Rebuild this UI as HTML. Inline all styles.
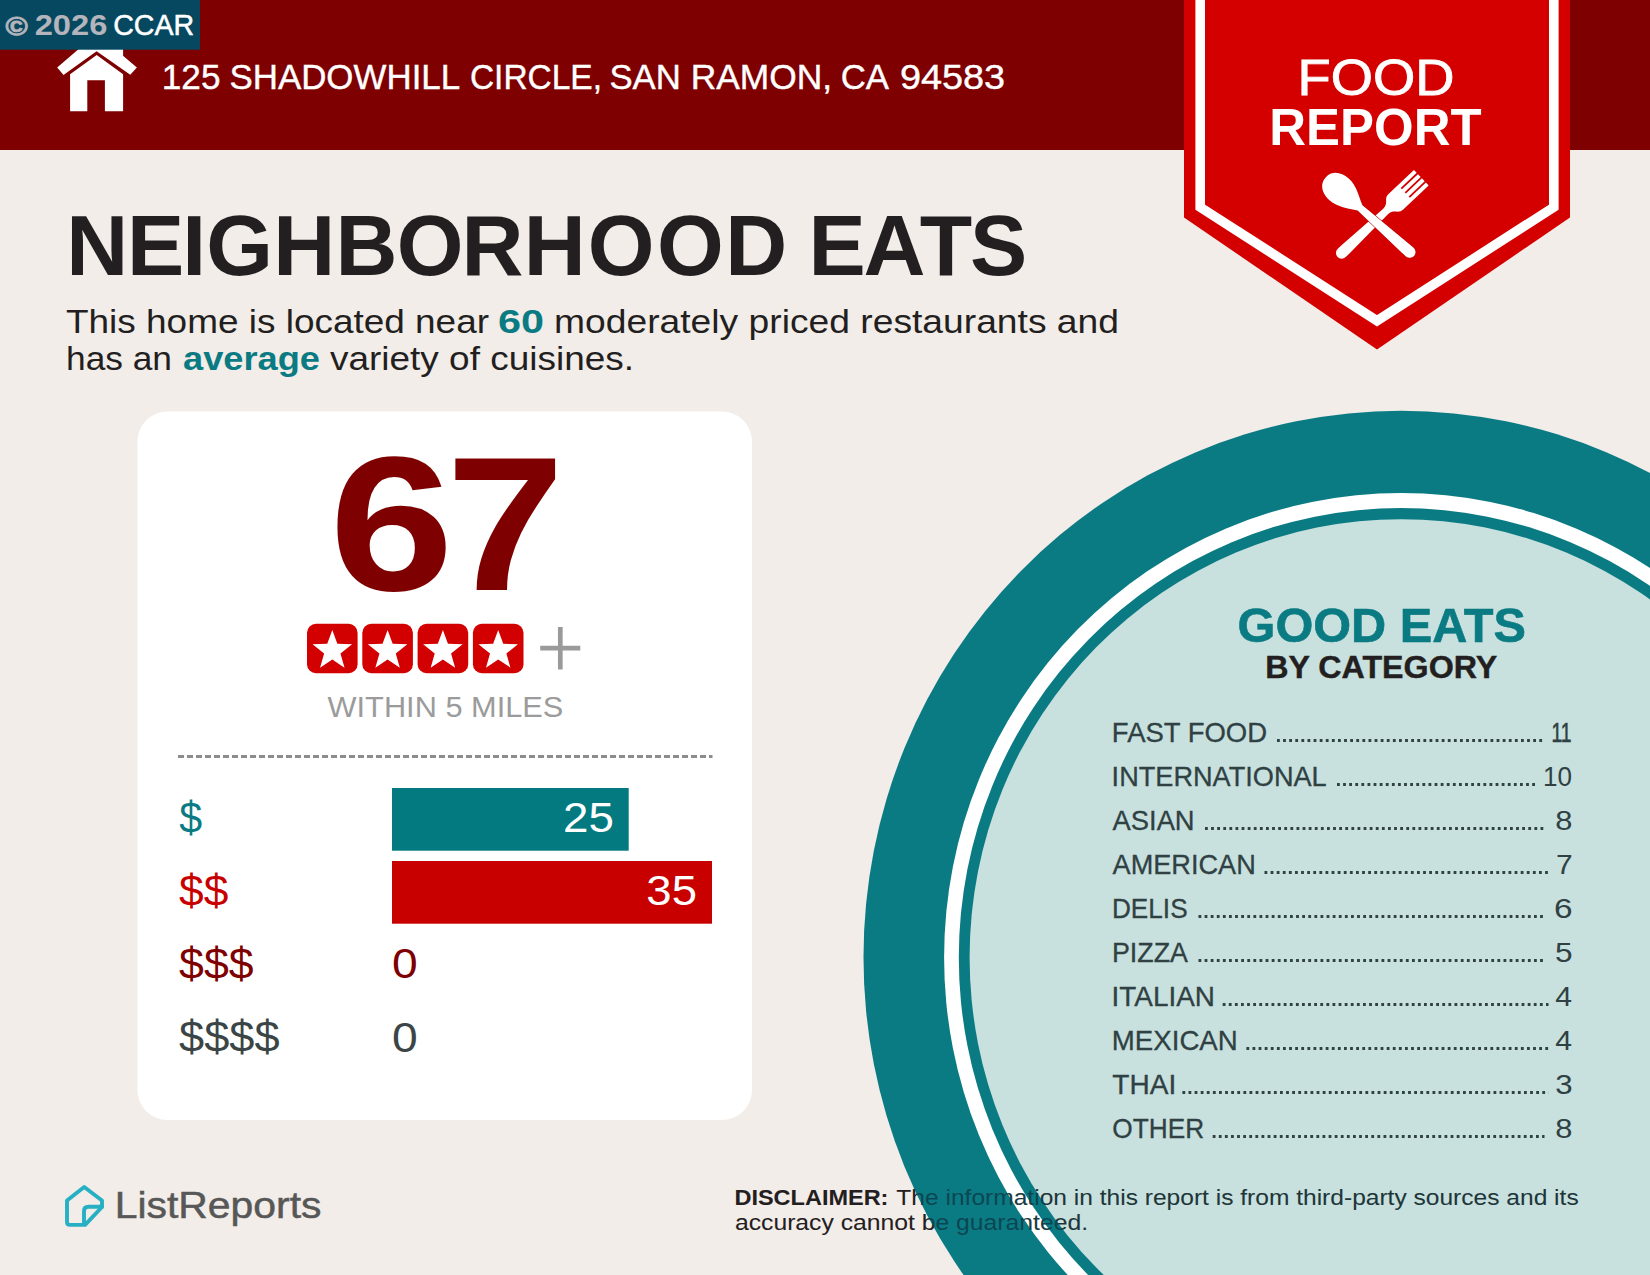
<!DOCTYPE html>
<html lang="en"><head><meta charset="utf-8"><title>Food Report - Neighborhood Eats</title>
<style>html,body{margin:0;padding:0;background:#f2ede9;}body{width:1650px;height:1275px;overflow:hidden;position:relative;font-family:"Liberation Sans", sans-serif;}svg{display:block;position:absolute;left:0;top:0;}text{font-family:"Liberation Sans", sans-serif;}</style></head><body>
<svg width="1650" height="1275" viewBox="0 0 1650 1275">
<defs><pattern id="tf" patternUnits="userSpaceOnUse" x="0" y="0" width="1650" height="1275">
<rect x="0" y="0" width="1650" height="1275" fill="#231f20"/>
<ellipse cx="1401.1" cy="957.4" rx="537.6" ry="546.6" fill="#0b4653"/>
<ellipse cx="1401.1" cy="957.4" rx="457" ry="464.3" fill="#1c3a40"/>
<ellipse cx="1401.1" cy="957.4" rx="442.3" ry="449.4" fill="#0b4653"/>
<ellipse cx="1401.1" cy="957.4" rx="431.5" ry="438.2" fill="#1f3538"/>
</pattern></defs>
<rect x="0" y="0" width="1650" height="1275" fill="#f2ede9"/>
<ellipse cx="1401.1" cy="957.4" rx="537.6" ry="546.6" fill="#0b7b83"/>
<ellipse cx="1401.1" cy="957.4" rx="457" ry="464.3" fill="#ffffff"/>
<ellipse cx="1401.1" cy="957.4" rx="442.3" ry="449.4" fill="#0b7b83"/>
<ellipse cx="1401.1" cy="957.4" rx="431.5" ry="438.2" fill="#c8e0de"/>
<rect x="0" y="0" width="1650" height="150" fill="#7e0000"/>
<polygon points="1184,0 1184,217.5 1377,349.5 1570,217.5 1570,0" fill="#d40000"/>
<polyline points="1200.2,-5 1200.2,207.2 1377,320.75 1553.8,207.2 1553.8,-5" fill="none" stroke="#ffffff" stroke-width="9.6" stroke-linejoin="miter"/>
<rect x="137.5" y="411.5" width="614.5" height="708.5" rx="30" ry="30" fill="#ffffff"/>
<g fill="#ffffff">
<polygon points="70.1,74.2 96.7,55.1 123.1,74.2 123.1,111.2 104.9,111.2 104.9,80.2 87.3,80.2 87.3,111.2 70.1,111.2"/>
<polygon points="96.8,33.5 136.9,67.6 130.3,74.8 96.6,51.3 63.5,75.1 57.2,67.6"/>
<rect x="111" y="30" width="12.1" height="29"/>
</g>
<rect x="0" y="0" width="200" height="49.7" fill="#05485f"/>
<text y="35.00" font-size="29"><tspan x="5.43" textLength="22.23" lengthAdjust="spacingAndGlyphs" font-weight="bold" fill="#b4b4bc" stroke="#b4b4bc" stroke-width="0.9" font-size="26.5">©</tspan><tspan x="27.80"> </tspan><tspan x="34.67" textLength="72.71" lengthAdjust="spacingAndGlyphs" font-weight="bold" fill="#b4b4bc">2026</tspan><tspan x="106.70"> </tspan><tspan x="113.25" textLength="80.87" lengthAdjust="spacingAndGlyphs" font-weight="normal" fill="#ffffff" stroke="#ffffff" stroke-width="0.5">CCAR</tspan></text>
<text y="89.00" font-size="35.8" stroke="#ffffff" stroke-width="0.4"><tspan x="161.72" textLength="58.76" lengthAdjust="spacingAndGlyphs" font-weight="normal" fill="#ffffff">125</tspan><tspan x="223.00"> </tspan><tspan x="229.42" textLength="230.74" lengthAdjust="spacingAndGlyphs" font-weight="normal" fill="#ffffff">SHADOWHILL</tspan><tspan x="463.60"> </tspan><tspan x="469.90" textLength="132.11" lengthAdjust="spacingAndGlyphs" font-weight="normal" fill="#ffffff">CIRCLE,</tspan><tspan x="603.00"> </tspan><tspan x="609.42" textLength="71.41" lengthAdjust="spacingAndGlyphs" font-weight="normal" fill="#ffffff">SAN</tspan><tspan x="685.60"> </tspan><tspan x="690.70" textLength="141.48" lengthAdjust="spacingAndGlyphs" font-weight="normal" fill="#ffffff">RAMON,</tspan><tspan x="834.50"> </tspan><tspan x="840.73" textLength="48.33" lengthAdjust="spacingAndGlyphs" font-weight="normal" fill="#ffffff">CA</tspan><tspan x="893.70"> </tspan><tspan x="899.93" textLength="105.24" lengthAdjust="spacingAndGlyphs" font-weight="normal" fill="#ffffff">94583</tspan></text>
<text x="66.14 127.04 182.23 206.18 273.14 335.55 396.87 461.48 523.69 587.82 656.97 725.15 787.11 808.39 863.43 919.67 969.93" y="275.00" font-size="85.8" font-weight="bold" fill="#231f20">NEIGHBORHOOD EATS</text>
<text y="332.80" font-size="34"><tspan x="66.00" textLength="423.00" lengthAdjust="spacingAndGlyphs" font-weight="normal" fill="#231f20">This home is located near</tspan><tspan x="490.00"> </tspan><tspan x="498.00" textLength="46.00" lengthAdjust="spacingAndGlyphs" font-weight="bold" fill="#0b7b83">60</tspan><tspan x="546.00"> </tspan><tspan x="554.00" textLength="565.00" lengthAdjust="spacingAndGlyphs" font-weight="normal" fill="#231f20">moderately priced restaurants and</tspan></text>
<text y="369.60" font-size="34"><tspan x="66.00" textLength="106.00" lengthAdjust="spacingAndGlyphs" font-weight="normal" fill="#231f20">has an</tspan><tspan x="175.00"> </tspan><tspan x="183.00" textLength="137.00" lengthAdjust="spacingAndGlyphs" font-weight="bold" fill="#0b7b83">average</tspan><tspan x="322.00"> </tspan><tspan x="330.00" textLength="304.00" lengthAdjust="spacingAndGlyphs" font-weight="normal" fill="#231f20">variety of cuisines.</tspan></text>
<text x="1297.44" y="95.00" font-size="50.6" font-weight="normal" fill="#ffffff" text-anchor="start" textLength="157.06" lengthAdjust="spacingAndGlyphs" stroke="#ffffff" stroke-width="0.9">FOOD</text>
<text x="1269.29" y="144.60" font-size="51.7" font-weight="bold" fill="#ffffff" text-anchor="start" textLength="212.25" lengthAdjust="spacingAndGlyphs">REPORT</text>
<g fill="#ffffff">
<g transform="translate(1421.3,177.7) rotate(46.6)"><path d="M-10.7,0 L-10.7,35 C-10.7,42 -3.8,41 -3.6,49 L-5.75,104 L-5.75,109.5 A5.75,5.75 0 0 0 5.75,109.5 L5.75,104 L3.6,49 C3.8,41 10.7,42 10.7,35 L10.7,0 L6.7,0 L6.7,22 L4.9,22 L4.9,0 L0.9,0 L0.9,22 L-0.9,22 L-0.9,0 L-4.9,0 L-4.9,22 L-6.7,22 L-6.7,0 Z"/></g>
<g transform="translate(1323.4,175.4) rotate(-48.4)"><path d="M0,3 C9.5,3 14.5,11 14.5,21 C14.5,32 8,40 3.6,49 L5.75,110 L5.75,115.5 A5.75,5.75 0 0 1 -5.75,115.5 L-5.75,110 L-3.6,49 C-8,40 -14.5,32 -14.5,21 C-14.5,11 -9.5,3 0,3 Z" stroke="#c00000" stroke-width="1" paint-order="stroke"/></g>
</g>
<text y="590.00" font-size="191.5"><tspan x="329.20" textLength="124.48" lengthAdjust="spacingAndGlyphs" font-weight="bold" fill="#7e0000">6</tspan><tspan x="446.17" textLength="118.17" lengthAdjust="spacingAndGlyphs" font-weight="bold" fill="#7e0000">7</tspan></text>
<rect x="307" y="623.8" width="50.6" height="49.4" rx="9" ry="9" fill="#d20000"/>
<polygon points="332.30,630.00 337.35,643.84 352.08,644.37 340.48,653.46 344.53,667.63 332.30,659.40 320.07,667.63 324.12,653.46 312.52,644.37 327.25,643.84" fill="#ffffff"/>
<rect x="362.3" y="623.8" width="50.6" height="49.4" rx="9" ry="9" fill="#d20000"/>
<polygon points="387.60,630.00 392.65,643.84 407.38,644.37 395.78,653.46 399.83,667.63 387.60,659.40 375.37,667.63 379.42,653.46 367.82,644.37 382.55,643.84" fill="#ffffff"/>
<rect x="417.6" y="623.8" width="50.6" height="49.4" rx="9" ry="9" fill="#d20000"/>
<polygon points="442.90,630.00 447.95,643.84 462.68,644.37 451.08,653.46 455.13,667.63 442.90,659.40 430.67,667.63 434.72,653.46 423.12,644.37 437.85,643.84" fill="#ffffff"/>
<rect x="472.9" y="623.8" width="50.6" height="49.4" rx="9" ry="9" fill="#d20000"/>
<polygon points="498.20,630.00 503.25,643.84 517.98,644.37 506.38,653.46 510.43,667.63 498.20,659.40 485.97,667.63 490.02,653.46 478.42,644.37 493.15,643.84" fill="#ffffff"/>
<path d="M540.2,648.2 H580.3 M560.3,627 V669.5" stroke="#9a9a9a" stroke-width="4.7" fill="none"/>
<text x="327.56" y="717.20" font-size="30.3" font-weight="normal" fill="#9b9b9b" text-anchor="start" textLength="235.75" lengthAdjust="spacingAndGlyphs">WITHIN 5 MILES</text>
<path d="M178,756.5 H712.5" stroke="#8c8c8c" stroke-width="3" stroke-dasharray="6 3" fill="none"/>
<rect x="392" y="788" width="236.7" height="62.7" fill="#027a80"/>
<rect x="392" y="861" width="320" height="62.7" fill="#c80000"/>
<text x="179.16" y="832.50" font-size="44.5" font-weight="normal" fill="#0b7b83" text-anchor="start" textLength="22.91" lengthAdjust="spacingAndGlyphs">$</text>
<text x="179.12" y="905.70" font-size="44.5" font-weight="normal" fill="#c80000" text-anchor="start" textLength="49.29" lengthAdjust="spacingAndGlyphs">$$</text>
<text x="179.12" y="978.80" font-size="44.5" font-weight="normal" fill="#7e0000" text-anchor="start" textLength="74.50" lengthAdjust="spacingAndGlyphs">$$$</text>
<text x="179.11" y="1052.00" font-size="44.5" font-weight="normal" fill="#3b4546" text-anchor="start" textLength="100.51" lengthAdjust="spacingAndGlyphs">$$$$</text>
<text x="563.00" y="832.00" font-size="43.2" font-weight="normal" fill="#ffffff" text-anchor="start" textLength="50.82" lengthAdjust="spacingAndGlyphs">25</text>
<text x="646.37" y="905.20" font-size="43.2" font-weight="normal" fill="#ffffff" text-anchor="start" textLength="50.65" lengthAdjust="spacingAndGlyphs">35</text>
<text x="392.09" y="978.30" font-size="43.2" font-weight="normal" fill="#7e0000" text-anchor="start" textLength="25.71" lengthAdjust="spacingAndGlyphs">0</text>
<text x="392.09" y="1051.50" font-size="43.2" font-weight="normal" fill="#3b4546" text-anchor="start" textLength="25.71" lengthAdjust="spacingAndGlyphs">0</text>
<text x="1237.63" y="641.50" font-size="47.5" font-weight="bold" fill="#0b7b83" text-anchor="start" textLength="288.25" lengthAdjust="spacingAndGlyphs" stroke="#0b7b83" stroke-width="0.6">GOOD EATS</text>
<text x="1265.18" y="677.90" font-size="30.8" font-weight="bold" fill="#231f20" text-anchor="start" textLength="232.13" lengthAdjust="spacingAndGlyphs" stroke="#231f20" stroke-width="0.4">BY CATEGORY</text>
<text x="1111.87" y="741.50" font-size="27.6" font-weight="normal" fill="#2f4143" text-anchor="start" textLength="155.22" lengthAdjust="spacingAndGlyphs" stroke="#2f4143" stroke-width="0.3">FAST FOOD</text>
<path d="M1277,740.5 H1544" stroke="#2f4143" stroke-width="2.8" stroke-dasharray="2.8 3.3" fill="none"/>
<text x="1551.43" y="741.50" font-size="27.6" font-weight="normal" fill="#2f4143" text-anchor="start" textLength="19.94" lengthAdjust="spacingAndGlyphs" stroke="#2f4143" stroke-width="0.7">11</text>
<text x="1111.62" y="785.50" font-size="27.6" font-weight="normal" fill="#2f4143" text-anchor="start" textLength="215.07" lengthAdjust="spacingAndGlyphs" stroke="#2f4143" stroke-width="0.3">INTERNATIONAL</text>
<path d="M1337,784.5 H1535.8" stroke="#2f4143" stroke-width="2.8" stroke-dasharray="2.8 3.3" fill="none"/>
<text x="1543.01" y="785.50" font-size="27.6" font-weight="normal" fill="#2f4143" text-anchor="start" textLength="29.00" lengthAdjust="spacingAndGlyphs">10</text>
<text x="1112.55" y="829.50" font-size="27.6" font-weight="normal" fill="#2f4143" text-anchor="start" textLength="82.08" lengthAdjust="spacingAndGlyphs" stroke="#2f4143" stroke-width="0.3">ASIAN</text>
<path d="M1205,828.5 H1544" stroke="#2f4143" stroke-width="2.8" stroke-dasharray="2.8 3.3" fill="none"/>
<text x="1555.36" y="829.50" font-size="27.6" font-weight="normal" fill="#2f4143" text-anchor="start" textLength="17.19" lengthAdjust="spacingAndGlyphs">8</text>
<text x="1112.55" y="873.50" font-size="27.6" font-weight="normal" fill="#2f4143" text-anchor="start" textLength="143.27" lengthAdjust="spacingAndGlyphs" stroke="#2f4143" stroke-width="0.3">AMERICAN</text>
<path d="M1264.5,872.5 H1549" stroke="#2f4143" stroke-width="2.8" stroke-dasharray="2.8 3.3" fill="none"/>
<text x="1556.07" y="873.50" font-size="27.6" font-weight="normal" fill="#2f4143" text-anchor="start" textLength="16.64" lengthAdjust="spacingAndGlyphs">7</text>
<text x="1111.95" y="917.50" font-size="27.6" font-weight="normal" fill="#2f4143" text-anchor="start" textLength="75.65" lengthAdjust="spacingAndGlyphs" stroke="#2f4143" stroke-width="0.3">DELIS</text>
<path d="M1198.5,916.5 H1544.5" stroke="#2f4143" stroke-width="2.8" stroke-dasharray="2.8 3.3" fill="none"/>
<text x="1554.11" y="917.50" font-size="27.6" font-weight="normal" fill="#2f4143" text-anchor="start" textLength="18.56" lengthAdjust="spacingAndGlyphs">6</text>
<text x="1111.90" y="961.50" font-size="27.6" font-weight="normal" fill="#2f4143" text-anchor="start" textLength="76.05" lengthAdjust="spacingAndGlyphs" stroke="#2f4143" stroke-width="0.3">PIZZA</text>
<path d="M1198.5,960.5 H1544.5" stroke="#2f4143" stroke-width="2.8" stroke-dasharray="2.8 3.3" fill="none"/>
<text x="1554.93" y="961.50" font-size="27.6" font-weight="normal" fill="#2f4143" text-anchor="start" textLength="17.60" lengthAdjust="spacingAndGlyphs">5</text>
<text x="1111.58" y="1005.50" font-size="27.6" font-weight="normal" fill="#2f4143" text-anchor="start" textLength="103.35" lengthAdjust="spacingAndGlyphs" stroke="#2f4143" stroke-width="0.3">ITALIAN</text>
<path d="M1222.7,1004.5 H1548.5" stroke="#2f4143" stroke-width="2.8" stroke-dasharray="2.8 3.3" fill="none"/>
<text x="1555.31" y="1005.50" font-size="27.6" font-weight="normal" fill="#2f4143" text-anchor="start" textLength="16.78" lengthAdjust="spacingAndGlyphs">4</text>
<text x="1111.83" y="1049.50" font-size="27.6" font-weight="normal" fill="#2f4143" text-anchor="start" textLength="125.92" lengthAdjust="spacingAndGlyphs" stroke="#2f4143" stroke-width="0.3">MEXICAN</text>
<path d="M1246.4,1048.5 H1548.5" stroke="#2f4143" stroke-width="2.8" stroke-dasharray="2.8 3.3" fill="none"/>
<text x="1555.31" y="1049.50" font-size="27.6" font-weight="normal" fill="#2f4143" text-anchor="start" textLength="16.78" lengthAdjust="spacingAndGlyphs">4</text>
<text x="1112.27" y="1093.50" font-size="27.6" font-weight="normal" fill="#2f4143" text-anchor="start" textLength="63.92" lengthAdjust="spacingAndGlyphs" stroke="#2f4143" stroke-width="0.3">THAI</text>
<path d="M1182.4,1092.5 H1548.5" stroke="#2f4143" stroke-width="2.8" stroke-dasharray="2.8 3.3" fill="none"/>
<text x="1555.21" y="1093.50" font-size="27.6" font-weight="normal" fill="#2f4143" text-anchor="start" textLength="17.36" lengthAdjust="spacingAndGlyphs">3</text>
<text x="1112.36" y="1137.50" font-size="27.6" font-weight="normal" fill="#2f4143" text-anchor="start" textLength="91.86" lengthAdjust="spacingAndGlyphs" stroke="#2f4143" stroke-width="0.3">OTHER</text>
<path d="M1212.7,1136.5 H1544.5" stroke="#2f4143" stroke-width="2.8" stroke-dasharray="2.8 3.3" fill="none"/>
<text x="1555.36" y="1137.50" font-size="27.6" font-weight="normal" fill="#2f4143" text-anchor="start" textLength="17.19" lengthAdjust="spacingAndGlyphs">8</text>
<g fill="none" stroke="#27b0c4" stroke-width="3.9" stroke-linejoin="round" stroke-linecap="round"><path d="M67,1200.5 L84.2,1187 L102,1200.5 L102,1207 L85.1,1224.9 L70,1224.9 Q67,1224.9 67,1222 Z"/><path d="M102,1206.8 L88.5,1206.8 Q84,1206.8 84,1211 L84,1224"/></g>
<text x="114.65" y="1218.30" font-size="37.4" font-weight="normal" fill="#575757" text-anchor="start" textLength="206.83" lengthAdjust="spacingAndGlyphs" stroke="#575757" stroke-width="0.5">ListReports</text>
<text y="1204.70" font-size="22.2"><tspan x="734.43" textLength="154.03" lengthAdjust="spacingAndGlyphs" font-weight="bold" fill="url(#tf)">DISCLAIMER:</tspan><tspan x="888.90"> </tspan><tspan x="896.35" textLength="682.34" lengthAdjust="spacingAndGlyphs" font-weight="normal" fill="url(#tf)">The information in this report is from third-party sources and its</tspan></text>
<text x="734.95" y="1229.60" font-size="22.2" font-weight="normal" fill="url(#tf)" text-anchor="start" textLength="353.11" lengthAdjust="spacingAndGlyphs">accuracy cannot be guaranteed.</text>
</svg></body></html>
